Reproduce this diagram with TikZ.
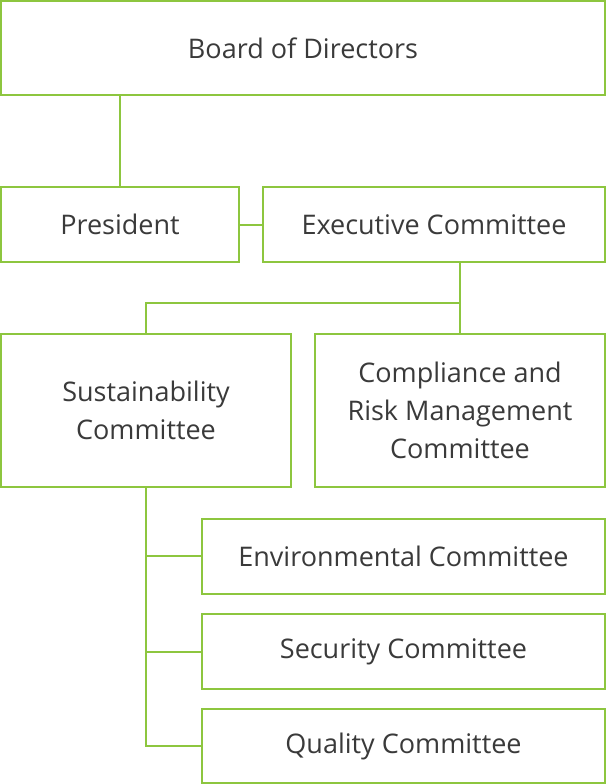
\documentclass[tikz,border=0pt]{standalone}
\usepackage{fontspec}
\setmainfont{Open Sans}
\definecolor{grn}{HTML}{8DC63F}
\definecolor{txt}{HTML}{3A3A3A}
\begin{document}
\begin{tikzpicture}[x=1pt,y=-1pt,
  box/.style={draw=grn,line width=2.2pt,fill=white,inner sep=0pt,text=txt,align=center,font=\fontsize{27}{38}\selectfont},
  link/.style={draw=grn,line width=2.2pt}]
\useasboundingbox (0,0) rectangle (606,784);
% connectors first
\coordinate (bp) at (120,95);
\coordinate (pp) at (120,187);
\draw[link] (bp) -- (pp);
\coordinate (pe1) at (239,225);
\coordinate (pe2) at (263,225);
\draw[link] (pe1) -- (pe2);
\coordinate (e1) at (460,262);
\coordinate (e2) at (460,334);
\coordinate (e3) at (460,303);
\coordinate (s1) at (146,303);
\coordinate (s2) at (146,334);
\draw[link] (e1) -- (e2);
\draw[link] (e3) -- (s1) -- (s2);
\coordinate (v1) at (146,487);
\coordinate (v2) at (146,746);
\coordinate (h1) at (146,556);
\coordinate (h1b) at (202,556);
\coordinate (h2) at (146,652);
\coordinate (h2b) at (202,652);
\coordinate (h3b) at (202,746);
\draw[link] (v1) -- (v2) -- (h3b);
\draw[link] (h1) -- (h1b);
\draw[link] (h2) -- (h2b);
% boxes
\node[box,minimum width=604pt,minimum height=94pt] (board) at (303,48) {Board of Directors};
\node[box,minimum width=238pt,minimum height=75pt] (pres) at (120,224.5) {President};
\node[box,minimum width=342pt,minimum height=75pt] (exec) at (434,224.5) {Executive Committee};
\node[box,minimum width=290pt,minimum height=153pt] (sus) at (146,410.5) {Sustainability\\Committee};
\node[box,minimum width=290pt,minimum height=153pt] (comp) at (460,410.5) {Compliance and\\Risk Management\\Committee};
\node[box,minimum width=403pt,minimum height=75pt] (env) at (403.5,556.5) {Environmental Committee};
\node[box,minimum width=403pt,minimum height=75pt] (sec) at (403.5,651.5) {Security Committee};
\node[box,minimum width=403pt,minimum height=74pt] (qual) at (403.5,746) {Quality Committee};
\end{tikzpicture}
\end{document}
